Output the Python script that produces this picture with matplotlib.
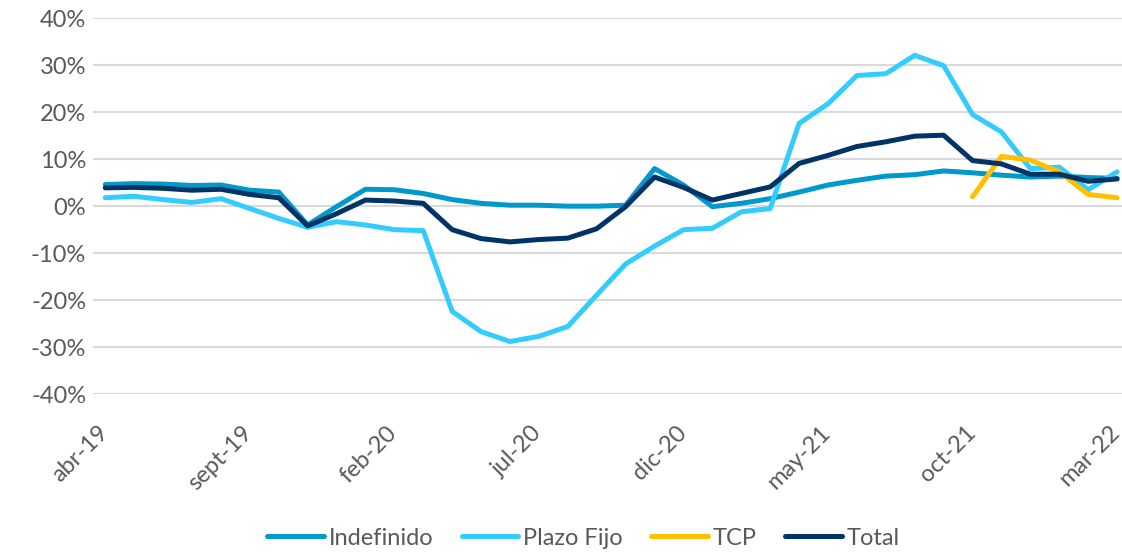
import matplotlib
matplotlib.use("Agg")
import matplotlib.pyplot as plt
import matplotlib.transforms as mtransforms
import numpy as np

# monthly, abr-19 .. mar-22
months = ["abr-19", "may-19", "jun-19", "jul-19", "ago-19", "sept-19", "oct-19", "nov-19", "dic-19",
          "ene-20", "feb-20", "mar-20", "abr-20", "may-20", "jun-20", "jul-20", "ago-20", "sept-20",
          "oct-20", "nov-20", "dic-20", "ene-21", "feb-21", "mar-21", "abr-21", "may-21", "jun-21",
          "jul-21", "ago-21", "sept-21", "oct-21", "nov-21", "dic-21", "ene-22", "feb-22", "mar-22"]

indefinido = [4.6, 4.8, 4.7, 4.4, 4.5, 3.4, 3.0, -4.0, -0.1, 3.6, 3.5, 2.7,
              1.4, 0.6, 0.2, 0.2, 0.0, 0.0, 0.2, 8.0, 4.5, -0.1, 0.6, 1.6,
              3.0, 4.5, 5.5, 6.4, 6.7, 7.5, 7.1, 6.6, 6.2, 6.4, 6.1, 5.9]
plazo_fijo = [1.8, 2.1, 1.4, 0.8, 1.6, -0.5, -2.6, -4.5, -3.3, -4.0, -5.0, -5.2,
              -22.4, -26.7, -28.8, -27.7, -25.6, -18.9, -12.3, -8.5, -5.0, -4.7, -1.2, -0.5,
              17.6, 21.8, 27.8, 28.2, 32.1, 29.9, 19.5, 15.8, 8.0, 8.3, 3.5, 7.3]
tcp = [np.nan] * 30 + [2.0, 10.6, 9.8, 7.3, 2.5, 1.8]
total = [3.9, 4.0, 3.8, 3.4, 3.6, 2.5, 1.8, -4.2, -1.6, 1.3, 1.1, 0.6,
         -5.0, -6.9, -7.6, -7.1, -6.8, -4.8, -0.1, 6.2, 4.0, 1.3, 2.7, 4.1,
         9.1, 10.8, 12.7, 13.7, 14.9, 15.1, 9.7, 9.0, 6.8, 6.8, 5.3, 5.8]

x = np.arange(len(months))

plt.rcParams["font.family"] = ["Lato", "DejaVu Sans"]
fig = plt.figure(figsize=(11.22, 5.52), dpi=100)
ax = fig.add_axes([0.083, 0.286, 0.917, 0.681])

kw = dict(lw=3.6, solid_joinstyle="round", solid_capstyle="round")
ax.plot(x, indefinido, color="#0099CC", label="Indefinido", **kw)
ax.plot(x, plazo_fijo, color="#33CCFF", label="Plazo Fijo", **kw)
ax.plot(x, tcp, color="#FFC000", label="TCP", **kw)
ax.plot(x, total, color="#003366", label="Total", **kw)

ax.set_ylim(-40, 40)
ax.set_yticks(np.arange(-40, 41, 10))
ax.set_yticklabels([f"{v}%" for v in range(-40, 41, 10)])
ax.set_xlim(-0.42, 35.17)
ax.set_xticks(x[::5])
ax.set_xticklabels(months[::5], rotation=45, ha="right", rotation_mode="anchor")

ax.grid(axis="y", color="#D9D9D9", lw=1.5)
ax.set_axisbelow(True)
for s in ax.spines.values():
    s.set_visible(False)
ax.tick_params(axis="both", length=0, labelsize=17, colors="#595959")
ax.tick_params(axis="y", pad=5)
ax.tick_params(axis="x", pad=20)

# nudge rotated labels a bit left so the last one stays inside
shift = mtransforms.ScaledTranslation(-0.08, 0, fig.dpi_scale_trans)
for lab in ax.get_xticklabels():
    lab.set_transform(lab.get_transform() + shift)

leg = fig.legend(loc="center", bbox_to_anchor=(0.52, 0.025), ncol=4, frameon=False,
                 fontsize=17, handlelength=2.4, columnspacing=1.2, handletextpad=0.2)
for t in leg.get_texts():
    t.set_color("#595959")

fig.savefig("out.png", dpi=100)
